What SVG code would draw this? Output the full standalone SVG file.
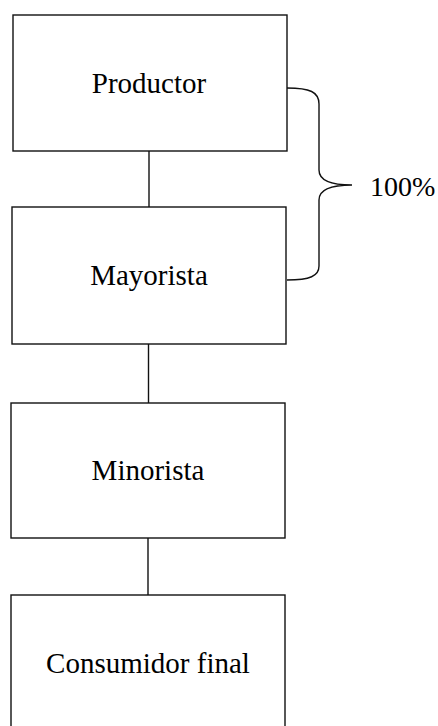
<svg xmlns="http://www.w3.org/2000/svg" width="438" height="726" viewBox="0 0 438 726">
<style>
.box{fill:#fff;stroke:#111;stroke-width:1.4}
.lbl{font-family:"Liberation Serif","Times New Roman",serif;font-size:29px;fill:#000;text-anchor:middle}
.con{stroke:#111;stroke-width:1.4;fill:none}
</style>
<rect width="438" height="726" fill="#fff"/>
<g id="productor"><rect class="box" x="13" y="15" width="274" height="136"/><text class="lbl" x="149" y="93">Productor</text></g>
<g id="mayorista"><rect class="box" x="12" y="207" width="274" height="137"/><text class="lbl" x="149" y="285">Mayorista</text></g>
<g id="minorista"><rect class="box" x="11" y="403" width="274" height="135"/><text class="lbl" x="148" y="480">Minorista</text></g>
<g id="consumidor"><rect class="box" x="11" y="595" width="274" height="137"/><text class="lbl" x="148" y="673">Consumidor final</text></g>
<g id="connectors">
<line class="con" x1="149" y1="151" x2="149" y2="207"/>
<line class="con" x1="148.5" y1="344" x2="148.5" y2="403"/>
<line class="con" x1="148" y1="538" x2="148" y2="595"/>
</g>
<g id="brace">
<path class="con" stroke-width="1.8" d="M287,88 C310,88 319,92 319,104 L319,170 C319,180 330,185 352,185 C330,185 319,190 319,200 L319,266 C319,276 310,280 287,280"/>
<text x="370" y="196" style="font-family:'Liberation Serif','Times New Roman',serif;font-size:28px;fill:#000">100%</text>
</g>
</svg>
